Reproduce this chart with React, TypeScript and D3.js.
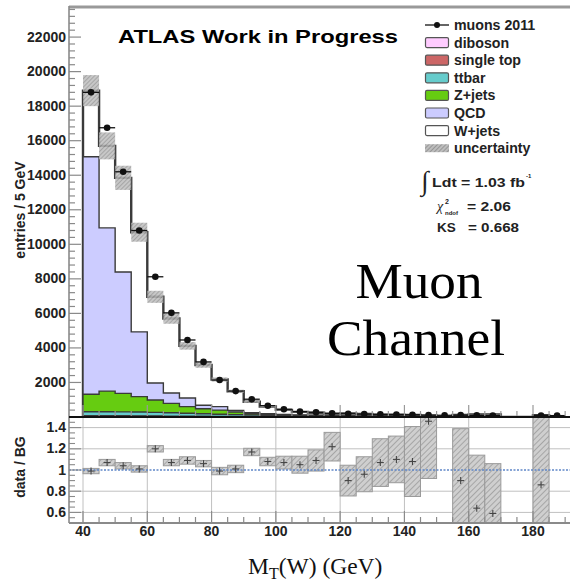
import React from "react";
import * as d3 from "d3";

const binLow = [40, 45, 50, 55, 60, 65, 70, 75, 80, 85, 90, 95, 100, 105, 110, 115, 120, 125, 130, 135, 140, 145, 150, 155, 160, 165, 170, 175, 180, 185];
const binWidth = 5;
const dataCounts = [18800, 16750, 14200, 10800, 8120, 6030, 4460, 3190, 2140, 1500, 1030, 655, 445, 310, 270, 215, 190, 170, 150, 140, 130, 110, 100, 110, 96, 86, 0, 0, 86, 80];
const diboson = [30, 32, 30, 28, 25, 22, 20, 18, 15, 12, 10, 9, 8, 7, 6, 5, 4, 4, 3, 3, 2, 2, 0, 2, 2, 1, 0, 0, 1, 0];
const singleTop = [40, 42, 40, 38, 35, 30, 26, 22, 18, 15, 12, 10, 9, 8, 7, 6, 5, 5, 4, 4, 3, 3, 0, 2, 2, 2, 0, 0, 1, 0];
const ttbar = [230, 230, 225, 220, 210, 190, 170, 150, 130, 110, 90, 75, 60, 50, 45, 40, 35, 30, 28, 25, 22, 20, 0, 20, 18, 15, 0, 0, 10, 0];
const zjets = [1015, 1196, 1075, 894, 715, 548, 384, 290, 237, 153, 80, 60, 40, 30, 25, 20, 15, 12, 10, 8, 6, 5, 0, 4, 3, 3, 0, 0, 2, 0];
const qcd = [13755, 9450, 7030, 3750, 985, 600, 500, 200, 200, 90, 60, 40, 30, 20, 15, 10, 8, 6, 5, 4, 3, 2, 0, 2, 2, 1, 0, 0, 1, 0];
const wjets = [3830, 4750, 5450, 5770, 4990, 4310, 3020, 2330, 1570, 1110, 628, 411, 268, 180, 150, 95, 144, 120, 90, 83, 84, 43, 0, 92, 123, 123, 0, 0, 85, 0];
const mcUnc = [900, 780, 700, 550, 350, 300, 220, 160, 120, 90, 60, 45, 35, 30, 25, 20, 20, 18, 15, 14, 13, 10, 0, 12, 14, 14, 0, 0, 10, 0];
const ratio = [0.99, 1.07, 1.04, 1.01, 1.2, 1.07, 1.09, 1.06, 0.99, 1.01, 1.17, 1.08, 1.07, 1.05, 1.09, 1.22, 0.9, 0.96, 1.07, 1.1, 1.08, 1.46, null, 0.9, 0.64, 0.59, null, null, 0.86, null];
const ratioErr = [0.025, 0.03, 0.03, 0.03, 0.03, 0.03, 0.035, 0.03, 0.035, 0.035, 0.035, 0.04, 0.06, 0.08, 0.1, 0.135, 0.145, 0.165, 0.225, 0.22, 0.33, 0.54, null, 0.49, 0.5, 0.47, null, null, 1.0, null];

const yMainTicks = [2000, 4000, 6000, 8000, 10000, 12000, 14000, 16000, 18000, 20000, 22000];
const xTicks = [40, 60, 80, 100, 120, 140, 160, 180];
const ratioTicks = [0.6, 0.8, 1, 1.2, 1.4];
const ratioTickLabels = ["0.6", "0.8", "1", "1.2", "1.4"];

const layerNames = ["diboson", "single top", "ttbar", "Z+jets", "QCD", "W+jets"];
const layerValues = [diboson, singleTop, ttbar, zjets, qcd, wjets];
const layerColors = ["#ffccff", "#cc6666", "#66cccc", "#66cc11", "#ccccff", "#ffffff"];

const legendEntries = ["muons 2011", "diboson", "single top", "ttbar", "Z+jets", "QCD", "W+jets", "uncertainty"];

const SANS = "'Liberation Sans', Arial, Helvetica, sans-serif";
const SERIF = "'Liberation Serif', 'DejaVu Serif', serif";

export default function App() {
  const W = 570, H = 582;
  const left = 69, right = 572;
  const mainTop = 6, mainBottom = 417;
  const ratTop = 417, ratBottom = 523;

  const x = d3.scaleLinear().domain([40, 180]).range([83, 533]);
  const yMain = d3.scaleLinear().domain([0, 23800]).range([mainBottom, mainTop]);
  const yRat = d3.scaleLinear().domain([0.5, 1.5]).range([ratBottom, ratTop]);

  const lastEdge = binLow[binLow.length - 1] + binWidth;

  const rows = binLow.map((b, i) => {
    const r: any = { b };
    layerNames.forEach((n, k) => (r[n] = layerValues[k][i]));
    return r;
  });
  const stack = d3.stack().keys(layerNames)(rows as any);
  const total = binLow.map((_, i) => layerValues.reduce((s, arr) => s + arr[i], 0));

  const stepPts = (vals: number[]) => {
    const pts = binLow.map((b, i) => [b, vals[i]] as [number, number]);
    pts.push([lastEdge, vals[vals.length - 1]]);
    return pts;
  };
  const area = d3
    .area<[number, number]>()
    .x((d) => x(d[0]))
    .y0(yMain(0))
    .y1((d) => yMain(d[1]))
    .curve(d3.curveStepAfter);

  const cumTops = stack.map((s) => s.map((d) => d[1]));

  const yMinor = d3.range(0, 23800, 400);
  const xMinor = d3.range(40, 192, 5);
  const rMinor = d3.range(0.5, 1.5001, 0.05);

  const legendY0 = 25, legendDy = 17.6;

  return (
    <svg width={W} height={H} style={{ position: "absolute", left: 0, top: 0, background: "#fff" }}>
      <defs>
        <clipPath id="mainClip">
          <rect x={left} y={mainTop} width={right - left} height={mainBottom - mainTop} />
        </clipPath>
        <clipPath id="ratClip">
          <rect x={left} y={ratTop} width={right - left} height={ratBottom - ratTop} />
        </clipPath>
        <pattern id="hatchMain" patternUnits="userSpaceOnUse" width="3" height="3" patternTransform="rotate(45)">
          <rect width="3" height="3" fill="#bdbdbd" />
          <line x1="0" y1="0" x2="0" y2="3" stroke="#858585" strokeWidth="1.4" />
        </pattern>
        <pattern id="hatchRat" patternUnits="userSpaceOnUse" width="4" height="4" patternTransform="rotate(45)">
          <rect width="4" height="4" fill="#cfcfcf" />
          <line x1="0" y1="0" x2="0" y2="4" stroke="#8a8a8a" strokeWidth="1.2" />
        </pattern>
      </defs>

      {/* ===== main panel ===== */}
      <g clipPath="url(#mainClip)">
        {cumTops
          .slice()
          .reverse()
          .map((tops, ri) => {
            const k = layerNames.length - 1 - ri;
            return (
              <path
                key={layerNames[k]}
                d={area(stepPts(tops)) || ""}
                fill={layerColors[k]}
                stroke="#3a3a3a"
                strokeWidth={k === layerNames.length - 1 ? 2.4 : 1.4}
                strokeLinejoin="miter"
              />
            );
          })}
        {binLow.map((b, i) =>
          mcUnc[i] > 0 ? (
            <rect
              key={"u" + b}
              x={x(b)}
              width={x(b + binWidth) - x(b)}
              y={yMain(total[i] + mcUnc[i])}
              height={yMain(total[i] - mcUnc[i]) - yMain(total[i] + mcUnc[i])}
              fill="url(#hatchMain)"
              opacity={0.85}
            />
          ) : null
        )}
        {binLow.map((b, i) =>
          dataCounts[i] > 0 ? (
            <g key={"d" + b}>
              <line x1={x(b)} x2={x(b + binWidth)} y1={yMain(dataCounts[i])} y2={yMain(dataCounts[i])} stroke="#111" strokeWidth={1.3} />
              <circle cx={x(b + binWidth / 2)} cy={yMain(dataCounts[i])} r={3.3} fill="#111" />
            </g>
          ) : null
        )}
      </g>

      {/* main axes */}
      <line x1={left} x2={right} y1={mainTop + 1} y2={mainTop + 1} stroke="#999" strokeWidth={3} />
      <line x1={left} x2={left} y1={mainTop} y2={ratBottom} stroke="#8a8a8a" strokeWidth={1.6} />
      {yMinor.map((v) => (
        <line key={"ym" + v} x1={left} x2={left + (v % 2000 === 0 ? 12 : 6)} y1={yMain(v)} y2={yMain(v)} stroke="#8a8a8a" strokeWidth={1.2} />
      ))}
      {yMainTicks.map((v) => (
        <text key={"yl" + v} x={left - 3} y={yMain(v) + 4.5} textAnchor="end" fontFamily={SANS} fontWeight="bold" fontSize={14} fill="#222">
          {v}
        </text>
      ))}
      {xMinor.map((v) => (
        <line key={"xm" + v} x1={x(v)} x2={x(v)} y1={mainBottom} y2={mainBottom - (v % 20 === 0 ? 12 : 6)} stroke="#999" strokeWidth={1.2} />
      ))}

      {/* ===== ratio panel ===== */}
      <g clipPath="url(#ratClip)">
        {xTicks.map((v) => (
          <line key={"rg" + v} x1={x(v)} x2={x(v)} y1={ratTop} y2={ratBottom} stroke="#c0c0c0" strokeWidth={1} />
        ))}
        {ratioTicks
          .filter((v) => v !== 1)
          .map((v) => (
            <line key={"rh" + v} x1={left} x2={right} y1={yRat(v)} y2={yRat(v)} stroke="#c0c0c0" strokeWidth={1} />
          ))}
        {binLow.map((b, i) =>
          ratio[i] != null ? (
            <rect
              key={"rb" + b}
              x={x(b)}
              width={x(b + binWidth) - x(b)}
              y={yRat((ratio[i] as number) + (ratioErr[i] as number))}
              height={yRat((ratio[i] as number) - (ratioErr[i] as number)) - yRat((ratio[i] as number) + (ratioErr[i] as number))}
              fill="url(#hatchRat)"
              stroke="#9a9a9a"
              strokeWidth={1}
            />
          ) : null
        )}
        <line x1={left} x2={right} y1={yRat(1)} y2={yRat(1)} stroke="#5f86c8" strokeWidth={1.6} strokeDasharray="2,1.5" />
        {binLow.map((b, i) => {
          if (ratio[i] == null) return null;
          const cx = x(b + binWidth / 2);
          const cy = yRat(ratio[i] as number);
          return (
            <g key={"rp" + b} stroke="#444" strokeWidth={1.1}>
              <line x1={cx - 3.5} x2={cx + 3.5} y1={cy} y2={cy} />
              <line x1={cx} x2={cx} y1={cy - 3.5} y2={cy + 3.5} />
            </g>
          );
        })}
      </g>
      <line x1={left} x2={right} y1={ratBottom} y2={ratBottom} stroke="#8a8a8a" strokeWidth={1.8} />
      {rMinor.map((v) => {
        const major = Math.abs(Math.round(v * 5) - v * 5) < 1e-6;
        return <line key={"rm" + v.toFixed(2)} x1={left} x2={left + (major ? 12 : 6)} y1={yRat(v)} y2={yRat(v)} stroke="#8a8a8a" strokeWidth={1.1} />;
      })}
      {ratioTicks.map((v, i) => (
        <text key={"rl" + v} x={left - 3} y={yRat(v) + 4.5} textAnchor="end" fontFamily={SANS} fontWeight="bold" fontSize={14} fill="#222">
          {ratioTickLabels[i]}
        </text>
      ))}
      {xMinor.map((v) => (
        <line key={"rxm" + v} x1={x(v)} x2={x(v)} y1={ratBottom} y2={ratBottom - (v % 20 === 0 ? 12 : 6)} stroke="#8a8a8a" strokeWidth={1.2} />
      ))}
      {xTicks.map((v) => (
        <text key={"xl" + v} x={x(v)} y={536} textAnchor="middle" fontFamily={SANS} fontWeight="bold" fontSize={14} fill="#222">
          {v}
        </text>
      ))}

      <line x1={left} x2={right} y1={mainBottom} y2={mainBottom} stroke="#111" strokeWidth={2} />

      {/* axis titles */}
      <text transform="translate(25,210) rotate(-90)" textAnchor="middle" fontFamily={SANS} fontWeight="bold" fontSize={14} fill="#222">
        entries / 5 GeV
      </text>
      <text transform="translate(25,467) rotate(-90)" textAnchor="middle" fontFamily={SANS} fontWeight="bold" fontSize={14} fill="#222">
        data / BG
      </text>
      <text x={248} y={574} fontFamily={SERIF} fontSize={23.5} fill="#111">
        M<tspan fontSize={16} dy={5}>T</tspan>
        <tspan dy={-5}>(W) (GeV)</tspan>
      </text>

      {/* title */}
      <text x={118} y={43} fontFamily={SANS} fontWeight="bold" fontSize={19} fill="#000" textLength={280} lengthAdjust="spacingAndGlyphs">
        ATLAS Work in Progress
      </text>

      {/* legend */}
      {legendEntries.map((name, i) => {
        const cy = legendY0 + i * legendDy;
        let sym: any = null;
        if (i === 0) {
          sym = (
            <g>
              <line x1={425} x2={449} y1={cy} y2={cy} stroke="#111" strokeWidth={1.3} />
              <circle cx={437} cy={cy} r={3} fill="#111" />
            </g>
          );
        } else if (i === legendEntries.length - 1) {
          sym = <rect x={425} y={cy - 4} width={24} height={8} fill="url(#hatchMain)" />;
        } else {
          const k = layerNames.indexOf(name);
          sym = <rect x={425.5} y={cy - 5} width={23} height={10} rx={1.5} fill={layerColors[k]} stroke="#555" strokeWidth={1.2} />;
        }
        return (
          <g key={"lg" + name}>
            {sym}
            <text x={454} y={cy + 5} fontFamily={SANS} fontWeight="bold" fontSize={14.2} fill="#222">
              {name}
            </text>
          </g>
        );
      })}

      {/* lumi and fit stats */}
      <text x={421} y={190} fontFamily={SERIF} fontSize={27} fill="#222">
        ∫
      </text>
      <text x={432} y={187} fontFamily={SANS} fontWeight="bold" fontSize={13.5} fill="#222" textLength={93} lengthAdjust="spacingAndGlyphs">
        Ldt = 1.03 fb
      </text>
      <text x={526} y={178} fontFamily={SANS} fontWeight="bold" fontSize={6} fill="#222">
        -1
      </text>
      <text x={437} y={211} fontFamily={SERIF} fontStyle="italic" fontSize={14} fill="#222">
        χ
      </text>
      <text x={445} y={204} fontFamily={SANS} fontWeight="bold" fontSize={7} fill="#222">
        2
      </text>
      <text x={445} y={215} fontFamily={SANS} fontWeight="bold" fontSize={6} fill="#222">
        ndof
      </text>
      <text x={467} y={211} fontFamily={SANS} fontWeight="bold" fontSize={13.5} fill="#222" textLength={44} lengthAdjust="spacingAndGlyphs">
        = 2.06
      </text>
      <text x={437} y={232} fontFamily={SANS} fontWeight="bold" fontSize={13.5} fill="#222">
        KS
      </text>
      <text x={468} y={232} fontFamily={SANS} fontWeight="bold" fontSize={13.5} fill="#222" textLength={51} lengthAdjust="spacingAndGlyphs">
        = 0.668
      </text>

      {/* channel label */}
      <text x={419} y={298} textAnchor="middle" fontFamily={SERIF} fontSize={50} fill="#000" textLength={127} lengthAdjust="spacingAndGlyphs">
        Muon
      </text>
      <text x={416} y={355} textAnchor="middle" fontFamily={SERIF} fontSize={50} fill="#000" textLength={178} lengthAdjust="spacingAndGlyphs">
        Channel
      </text>
    </svg>
  );
}
